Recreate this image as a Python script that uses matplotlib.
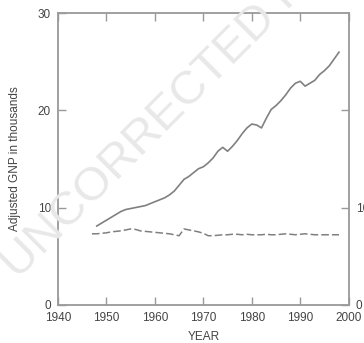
import matplotlib
matplotlib.use("Agg")
import matplotlib.pyplot as plt

plt.rcParams['font.family'] = ['Liberation Sans', 'DejaVu Sans']

years_gnp = list(range(1948, 1999))
gnp = [8.1, 8.4, 8.7, 9.0, 9.3, 9.6, 9.8, 9.9, 10.0, 10.1,
       10.2, 10.4, 10.6, 10.8, 11.0, 11.3, 11.7, 12.3, 12.9, 13.2,
       13.6, 14.0, 14.2, 14.6, 15.1, 15.8, 16.2, 15.8, 16.3, 16.9,
       17.6, 18.2, 18.6, 18.5, 18.2, 19.2, 20.1, 20.5, 21.0, 21.6,
       22.3, 22.8, 23.0, 22.5, 22.8, 23.1, 23.7, 24.1, 24.6, 25.3,
       26.0]

years_ratio = list(range(1947, 1999))
ratio = [7.3, 7.3, 7.35, 7.4, 7.5, 7.55, 7.6, 7.7, 7.8, 7.75,
         7.6, 7.55, 7.5, 7.45, 7.4, 7.35, 7.3, 7.2, 7.1, 7.8,
         7.7, 7.6, 7.5, 7.35, 7.1, 7.1, 7.15, 7.2, 7.2, 7.25,
         7.25, 7.2, 7.25, 7.2, 7.2, 7.2, 7.25, 7.2, 7.2, 7.25,
         7.3, 7.25, 7.2, 7.25, 7.3, 7.25, 7.2, 7.2, 7.2, 7.2,
         7.2, 7.2]

xticks = [1940, 1950, 1960, 1970, 1980, 1990, 2000]
yticks = [0, 10, 20, 30]
right_ticks = [0, 10, 20]
right_labels = ['0', '10', '']

fig = plt.figure(figsize=(3.64, 3.43), dpi=100)
ax = fig.add_axes([58/364, 1 - 304.7/343, (348.7 - 58)/364, (304.7 - 13.3)/343])

# watermark
fig.text(18/364, 1 - 280/343, "UNCORRECTED PROOF", rotation=45, fontsize=34,
         color='#e8e8e8', ha='left', va='baseline', rotation_mode='anchor',
         zorder=0, transform=fig.transFigure)

gray = '#808080'
ax.plot(years_gnp, gnp, color=gray, lw=1.2)
ax.plot(years_ratio, ratio, color=gray, lw=1.1, dashes=(5, 2))

ax.set_xlim(1940, 2000)
ax.set_ylim(0, 30)
ax.set_xticks(xticks)
ax.set_yticks(yticks)
ax.patch.set_alpha(0)

for s in ax.spines.values():
    s.set_color('#999999')
    s.set_linewidth(1.3)

ax.tick_params(direction='in', length=6, width=1.0, color='#999999',
               labelsize=8.5, labelcolor='#444444', top=True, right=True,
               pad=5)

ax2 = ax.twinx()
ax2.set_ylim(0, 30)
ax2.set_yticks(right_ticks)
ax2.set_yticklabels(right_labels)
ax2.tick_params(direction='in', length=6, width=1.0, color='#999999',
                labelsize=8.5, labelcolor='#444444', pad=5)
for s in ax2.spines.values():
    s.set_visible(False)

ax.set_xlabel('YEAR', fontsize=8.5, color='#444444', labelpad=5)
ax.set_ylabel('Adjusted GNP in thousands', fontsize=8.5, color='#444444', labelpad=12)

fig.savefig('out.png', dpi=100)
